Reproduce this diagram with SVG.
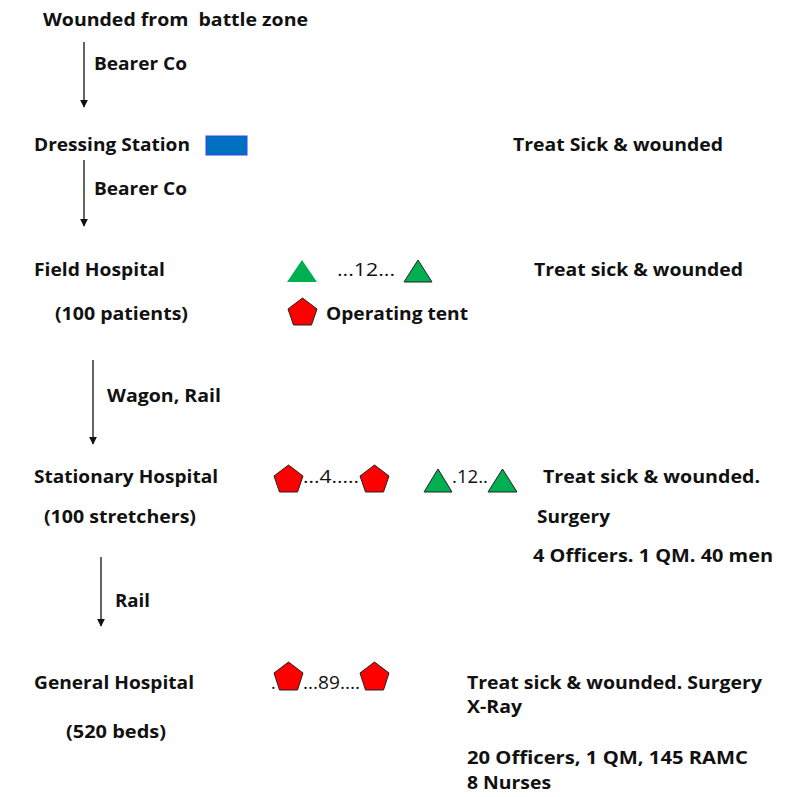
<svg xmlns="http://www.w3.org/2000/svg" width="792" height="797" viewBox="0 0 792 797">
<defs>
<style>
text{font-family:"Open Sans","Liberation Sans",sans-serif;font-size:17.5px;fill:#111;white-space:pre;}
.b{font-weight:bold;}
.n{font-weight:normal;}
.pent{fill:#FF0000;stroke:#222;stroke-width:1;}
.tri{fill:#00B050;stroke:#222;stroke-width:1;}
.arr{stroke:#111;stroke-width:1.3;fill:none;marker-end:url(#ah);}
</style>
<marker id="ah" viewBox="0 0 10 10" refX="9" refY="5" markerWidth="8" markerHeight="8" markerUnits="userSpaceOnUse" orient="auto">
<path d="M0,0 L10,5 L0,10 z" fill="#111"/>
</marker>
</defs>
<rect width="792" height="797" fill="#fff"/>
<g id="connectors">
<line class="arr" x1="84" y1="42" x2="84" y2="107"/>
<line class="arr" x1="84" y1="160" x2="84" y2="226"/>
<line class="arr" x1="93" y1="360" x2="93" y2="444"/>
<line class="arr" x1="101" y1="557" x2="101" y2="626"/>
<text class="b" x="94" y="70" textLength="93" lengthAdjust="spacingAndGlyphs">Bearer Co</text>
<text class="b" x="94" y="195" textLength="93" lengthAdjust="spacingAndGlyphs">Bearer Co</text>
<text class="b" x="107" y="402" textLength="114" lengthAdjust="spacingAndGlyphs">Wagon, Rail</text>
<text class="b" x="115" y="607" textLength="35" lengthAdjust="spacingAndGlyphs">Rail</text>
</g>
<g id="battle-zone">
<text class="b" x="43" y="26" textLength="265" lengthAdjust="spacingAndGlyphs" xml:space="preserve">Wounded from  battle zone</text>
</g>
<g id="dressing-station">
<text class="b" x="34" y="151" textLength="156" lengthAdjust="spacingAndGlyphs">Dressing Station</text>
<rect x="206" y="136" width="41" height="19" fill="#0070C0" stroke="#3344ee" stroke-width="1"/>
<text class="b" x="513" y="151" textLength="210" lengthAdjust="spacingAndGlyphs">Treat Sick &amp; wounded</text>
</g>
<g id="field-hospital">
<text class="b" x="34" y="276" textLength="131" lengthAdjust="spacingAndGlyphs">Field Hospital</text>
<text class="b" x="55" y="320" textLength="133" lengthAdjust="spacingAndGlyphs">(100 patients)</text>
<polygon points="302,260 317,282 287,282" fill="#00B050"/>
<text class="n" x="337" y="276" textLength="58" lengthAdjust="spacingAndGlyphs">...12...</text>
<polygon class="tri" points="418,260 432,282 404,282"/>
<text class="b" x="534" y="276" textLength="209" lengthAdjust="spacingAndGlyphs">Treat sick &amp; wounded</text>
<polygon class="pent" points="302.5,298 317,309 311.5,325 293.5,325 288,309"/>
<text class="b" x="326" y="320" textLength="142" lengthAdjust="spacingAndGlyphs">Operating tent</text>
</g>
<g id="stationary-hospital">
<text class="b" x="34" y="483" textLength="184" lengthAdjust="spacingAndGlyphs">Stationary Hospital</text>
<text class="b" x="44" y="523" textLength="152" lengthAdjust="spacingAndGlyphs">(100 stretchers)</text>
<polygon class="pent" points="288.5,465 303,476 297.5,492 279.5,492 274,476"/>
<text class="n" x="303" y="483" textLength="56" lengthAdjust="spacingAndGlyphs">...4.....</text>
<polygon class="pent" points="374.5,465 389,476 383.5,492 365.5,492 360,476"/>
<polygon class="tri" points="438,469 452,492 424,492"/>
<text class="n" x="452" y="483" textLength="36" lengthAdjust="spacingAndGlyphs">.12..</text>
<polygon class="tri" points="502.5,469 517,492 488,492"/>
<text class="b" x="543" y="483" textLength="217" lengthAdjust="spacingAndGlyphs">Treat sick &amp; wounded.</text>
<text class="b" x="537" y="523" textLength="73" lengthAdjust="spacingAndGlyphs">Surgery</text>
<text class="b" x="533" y="562" textLength="240" lengthAdjust="spacingAndGlyphs">4 Officers. 1 QM. 40 men</text>
</g>
<g id="general-hospital">
<text class="b" x="34" y="689" textLength="160" lengthAdjust="spacingAndGlyphs">General Hospital</text>
<text class="b" x="66" y="738" textLength="100" lengthAdjust="spacingAndGlyphs">(520 beds)</text>
<text class="n" x="271" y="689">.</text>
<polygon class="pent" points="288.5,662 303,673 297.5,690 279.5,690 274,673"/>
<text class="n" x="303" y="689" textLength="57" lengthAdjust="spacingAndGlyphs">...89....</text>
<polygon class="pent" points="374.5,662 389,673 383.5,690 365.5,690 360,673"/>
<text class="b" x="467" y="689" textLength="295" lengthAdjust="spacingAndGlyphs">Treat sick &amp; wounded. Surgery</text>
<text class="b" x="467" y="713" textLength="55" lengthAdjust="spacingAndGlyphs">X-Ray</text>
<text class="b" x="467" y="764" textLength="281" lengthAdjust="spacingAndGlyphs">20 Officers, 1 QM, 145 RAMC</text>
<text class="b" x="467" y="789" textLength="84" lengthAdjust="spacingAndGlyphs">8 Nurses</text>
</g>
</svg>
